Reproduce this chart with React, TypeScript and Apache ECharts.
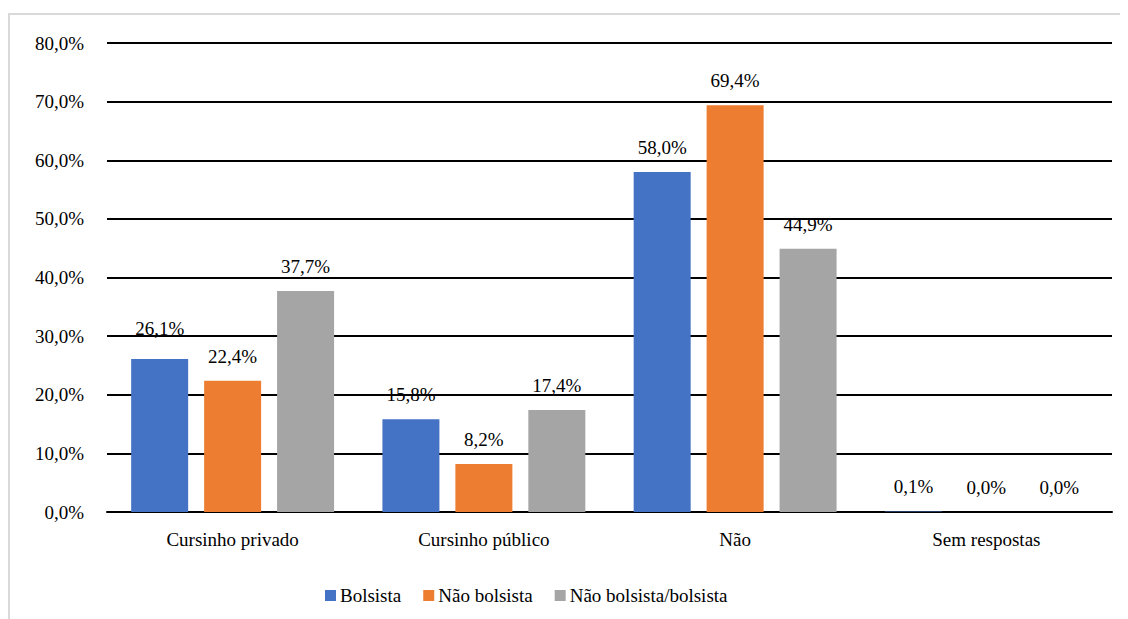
import React, { useEffect, useRef } from "react";
import * as echarts from "echarts";

const categories = ["Cursinho privado", "Cursinho público", "Não", "Sem respostas"];
const seriesNames = ["Bolsista", "Não bolsista", "Não bolsista/bolsista"];
const bolsista = [26.1, 15.8, 58.0, 0.1];
const naoBolsista = [22.4, 8.2, 69.4, 0.0];
const naoBolsistaBolsista = [37.7, 17.4, 44.9, 0.0];
const colors = ["#4472C4", "#ED7D31", "#A5A5A5"];

const FONT = "Liberation Serif";
const fmt = (v: number) => v.toFixed(1).replace(".", ",") + "%";

export default function App() {
  const ref = useRef<HTMLDivElement>(null);
  useEffect(() => {
    if (!ref.current) return;
    const chart = echarts.init(ref.current, undefined, { renderer: "svg" });
    const values = [bolsista, naoBolsista, naoBolsistaBolsista];
    chart.setOption({
      animation: false,
      textStyle: { fontFamily: FONT, fontSize: 19 },
      graphic: [
        {
          type: "rect",
          shape: { x: 1, y: 6, width: 1200, height: 700 },
          style: { fill: "none", stroke: "#d9d9d9", lineWidth: 2 },
          silent: true,
        },
      ],
      grid: { left: 99, right: 16, top: 35, bottom: 107, containLabel: false },
      legend: {
        left: 312,
        top: 573,
        itemWidth: 11,
        itemHeight: 11,
        itemGap: 22,
        icon: "rect",
        textStyle: { fontFamily: FONT, fontSize: 19, color: "#000", padding: [0, 0, 0, -1] },
        data: seriesNames,
      },
      xAxis: {
        type: "category",
        data: categories,
        axisLine: { lineStyle: { color: "#000", width: 2 } },
        axisTick: { show: false },
        axisLabel: { fontFamily: FONT, fontSize: 19, color: "#000", margin: 18 },
      },
      yAxis: {
        type: "value",
        min: 0,
        max: 80,
        interval: 10,
        axisLine: { show: false },
        axisTick: { show: false },
        splitLine: { lineStyle: { color: "#000", width: 2 } },
        axisLabel: {
          fontFamily: FONT,
          fontSize: 19,
          color: "#000",
          margin: 23,
          formatter: (v: number) => fmt(v),
        },
      },
      series: seriesNames.map((name, i) => ({
        name,
        type: "bar",
        barWidth: 57,
        barGap: "28%",
        itemStyle: { color: colors[i] },
        label: {
          show: true,
          position: "top",
          distance: 15,
          fontFamily: FONT,
          fontSize: 19,
          color: "#000",
          formatter: (p: any) => fmt(p.value),
        },
        data: values[i].map((v, j) =>
          i === 0 && j === 0 ? { value: v, label: { distance: 21 } } : v
        ),
      })),
    });
    return () => chart.dispose();
  }, []);
  return <div ref={ref} style={{ width: 1120, height: 611 }} />;
}
